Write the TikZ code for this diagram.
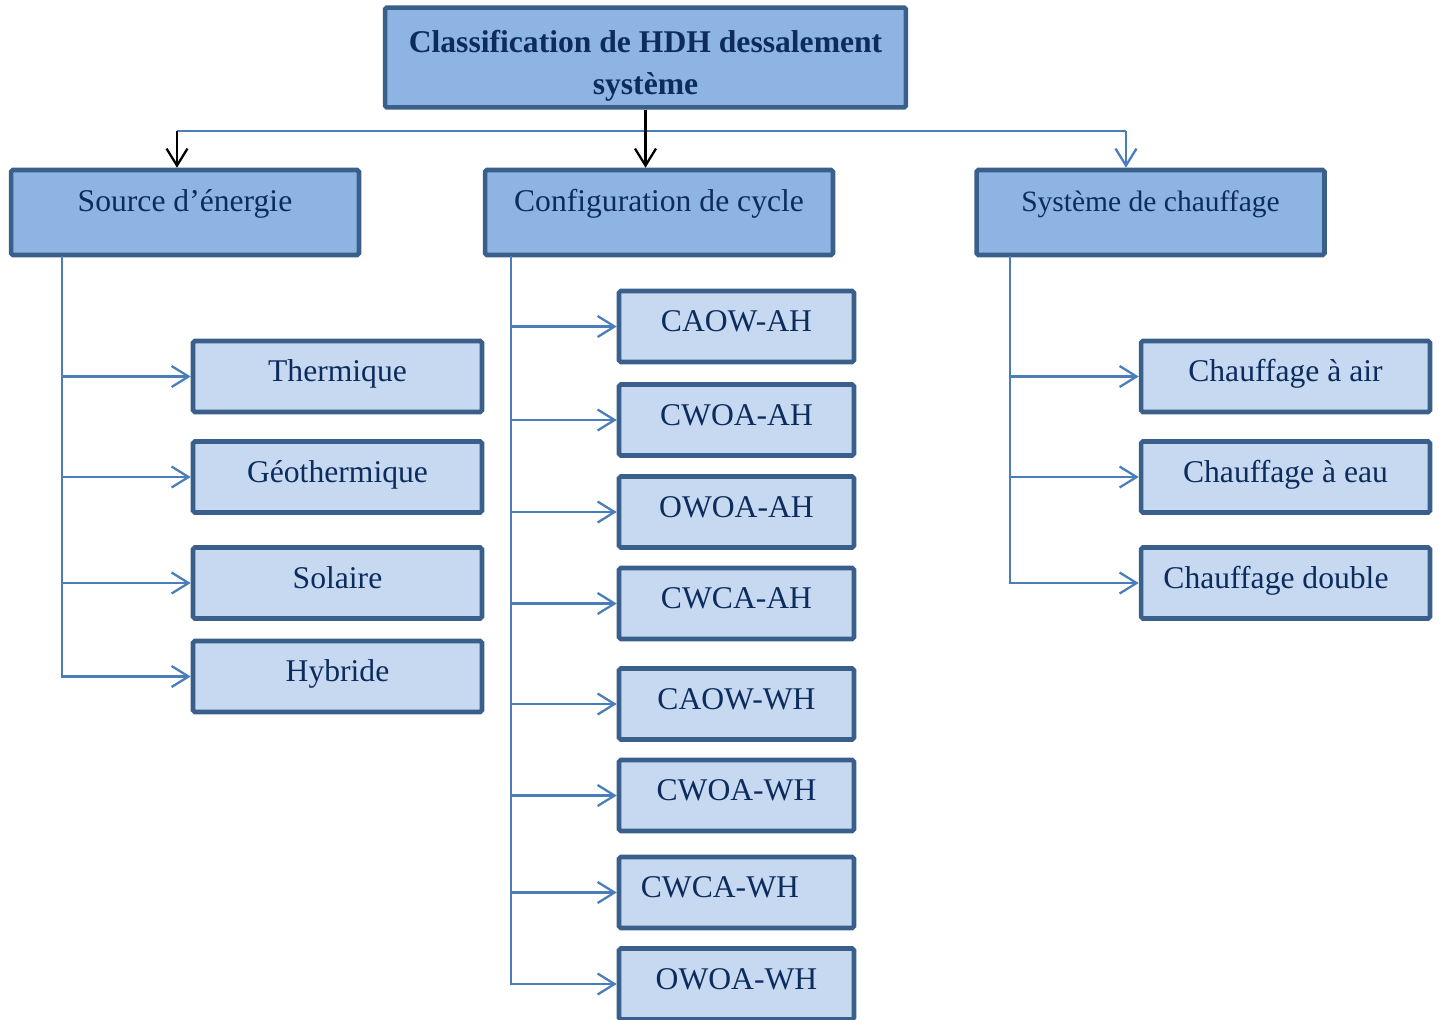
\documentclass[tikz,border=0pt]{standalone}
\usepackage{fontspec}
\setmainfont{Liberation Serif}
\usetikzlibrary{arrows.meta}
\definecolor{boxline}{HTML}{3A5F8B}
\definecolor{topfill}{HTML}{8EB4E3}
\definecolor{subfill}{HTML}{C6D9F1}
\definecolor{txtblue}{HTML}{0C2C5E}
\definecolor{linkblue}{HTML}{4A7EBB}
\tikzset{
  box/.style={draw=boxline, line width=2.6pt, rounded corners=1pt, text=txtblue, font=\fontsize{18}{24}\selectfont},
  titlebox/.style={box, fill=topfill, align=center, font=\fontsize{18}{24}\selectfont\bfseries, minimum width=10.42cm, minimum height=1.9cm},
  head/.style={box, fill=topfill, minimum width=6.96cm, minimum height=1.7cm, text height=0.46cm, text depth=0.52cm},
  sub/.style={box, fill=subfill, minimum width=5.78cm, minimum height=1.42cm, text height=0.48cm, text depth=0.28cm},
  cfg/.style={sub, minimum width=4.7cm},
  conn/.style={draw=linkblue, line width=1.3pt, -{Straight Barb[length=0.34cm,width=0.42cm]}},
  dn/.style={draw=black, line width=1.3pt, -{Straight Barb[length=0.34cm,width=0.42cm]}}
}
\begin{document}
\begin{tikzpicture}[x=0.02cm, y=-0.02cm]
  \useasboundingbox (0,0) rectangle (1441,1019);
  \node[titlebox] (hdh) at (645.5,57.5) {\rule{0pt}{0.78cm}Classification de HDH dessalement\\système};
  \node[head] (src) at (185,212.5) {Source d’énergie};
  \node[head] (conf) at (659,212.5) {Configuration de cycle};
  \node[head, font=\fontsize{16.8}{22}\selectfont] (sys) at (1150.5,212.5) {Système de chauffage};
  \coordinate (hl) at (177,131);
  \coordinate (hr) at (1126,131);
  \draw[draw=linkblue, line width=1.3pt] (hl) -- (hr);
  \draw[dn] (hl) -- (hl |- src.north);
  \draw[dn] (hdh.south) -- (hdh.south |- conf.north);
  \draw[conn] (hr) -- (hr |- sys.north);
  \foreach \name/\y/\txt in {therm/376.5/Thermique, geo/477/Géothermique, sol/583/Solaire, hyb/676.5/Hybride}
    \node[sub] (\name) at (337.5,\y) {\txt};
  \foreach \name/\y/\txt in {caowah/326.5/CAOW-AH, cwoaah/420/CWOA-AH, owoaah/512/OWOA-AH, cwcaah/603.5/CWCA-AH, caowwh/704/CAOW-WH, cwoawh/795.5/CWOA-WH, owoawh/984/OWOA-WH}
    \node[cfg] (\name) at (736.5,\y) {\txt};
  \node[cfg] (cwcawh) at (736.5,892.5) {CWCA-WH\hspace*{1.05em}};
  \foreach \name/\y/\txt in {air/376.5/Chauffage à air, eau/477/Chauffage à eau}
    \node[sub] (\name) at (1285.5,\y) {\txt};
  \node[sub] (dbl) at (1285.5,583) {Chauffage double\hspace*{0.6em}};
  \coordinate (lt) at (62,256);
  \coordinate (mt) at (511,256);
  \coordinate (rt) at (1010,256);
  \foreach \name in {therm,geo,sol,hyb}
    \draw[conn] (lt) |- (\name.west);
  \foreach \name in {caowah,cwoaah,owoaah,cwcaah,caowwh,cwoawh,cwcawh,owoawh}
    \draw[conn] (mt) |- (\name.west);
  \foreach \name in {air,eau,dbl}
    \draw[conn] (rt) |- (\name.west);
\end{tikzpicture}
\end{document}
